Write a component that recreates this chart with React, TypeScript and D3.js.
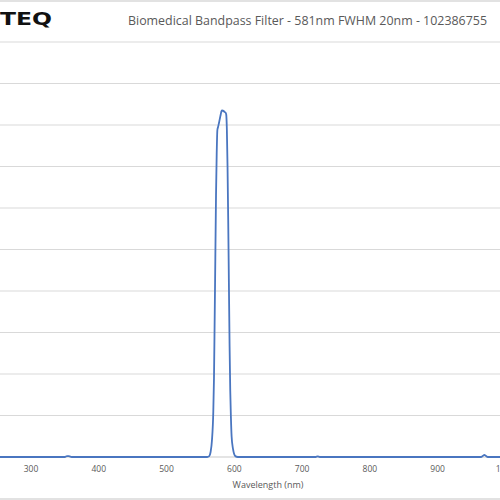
import React from "react";
import * as d3 from "d3";

const wavelengths = [250, 350, 353, 356, 360, 560, 563, 565, 567, 569, 570, 571, 572, 573, 574, 575, 576, 577, 578, 579, 580, 581, 582, 584, 586, 587, 588, 589, 590, 591, 592, 593, 594, 595, 596, 598, 600, 602, 605, 720, 723, 726, 964, 967, 969, 971, 974, 1060];
const transmission = [0, 0, 0.2, 0.2, 0, 0, 0.2, 1.2, 4, 11, 19, 33, 48, 63, 73, 78.8, 79.5, 80.2, 81.0, 81.8, 82.6, 83.3, 83.5, 83.4, 83.1, 83.0, 82.6, 79, 70, 57, 42, 27, 16, 9.5, 5, 2, 0.6, 0.15, 0, 0, 0.15, 0, 0, 0.3, 0.5, 0.3, 0, 0];
const xTicks = [300, 400, 500, 600, 700, 800, 900, 1000];
const yGrid = [0, 10, 20, 30, 40, 50, 60, 70, 80, 90, 100];
const title = "Biomedical Bandpass Filter - 581nm FWHM 20nm - 102386755";
const xTitle = "Wavelength (nm)";
const logo = "TEQ";

export default function App() {
  const W = 500, H = 500;
  const x = d3.scaleLinear().domain([300, 1000]).range([31, 505.4]);
  const y = d3.scaleLinear().domain([0, 100]).range([457, 42]);
  const data = wavelengths.map((w, i) => [w, transmission[i]] as [number, number]);
  const line = d3.line<[number, number]>().x(d => x(d[0])).y(d => y(d[1])).curve(d3.curveMonotoneX);
  const font = "'Open Sans', 'Liberation Sans', sans-serif";
  return (
    <svg width={W} height={H} style={{ position: "absolute", left: 0, top: 0, background: "#fff" }}>
      <rect x={0} y={0} width={W} height={H} fill="#fff" />
      <line x1={0} x2={W} y1={1} y2={1} stroke="#d9d9d9" strokeWidth={1.5} />
      <line x1={0} x2={W} y1={499} y2={499} stroke="#d9d9d9" strokeWidth={1.5} />
      {yGrid.map(v => (
        <line key={v} x1={0} x2={W} y1={y(v)} y2={y(v)} stroke={v === 0 ? "#c9c9c9" : "#d9d9d9"} strokeWidth={1} />
      ))}
      <text x={0} y={25} fontFamily="'DejaVu Sans', sans-serif" fontWeight={900} fontSize={17.5} fill="#111" textLength={52} lengthAdjust="spacingAndGlyphs">{logo}</text>
      <text x={128} y={24.5} fontFamily={font} fontSize={12.3} fill="#595959" textLength={359} lengthAdjust="spacingAndGlyphs">{title}</text>
      <path d={line(data) || ""} fill="none" stroke="#4a76c0" strokeWidth={1.8} strokeLinejoin="round" />
      {xTicks.map(t => (
        <text key={t} x={x(t)} y={472} textAnchor="middle" fontFamily={font} fontSize={8.5} fill="#595959">{t}</text>
      ))}
      <text x={268} y={487.5} textAnchor="middle" fontFamily={font} fontSize={9} fill="#595959">{xTitle}</text>
    </svg>
  );
}
